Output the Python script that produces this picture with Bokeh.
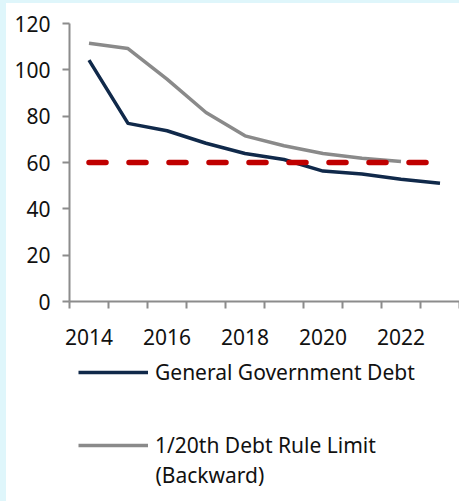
from bokeh.plotting import figure
from bokeh.models import Range1d, FixedTicker, Legend, LegendItem, LinearAxis, Label
from bokeh.layouts import column
from bokeh.embed import file_html
from bokeh.resources import INLINE

years = [2014, 2015, 2016, 2017, 2018, 2019, 2020, 2021, 2022, 2023]
debt = [104.2, 76.9, 73.7, 68.3, 63.9, 61.3, 56.3, 55.0, 52.8, 51.0]
rule_years = [2014, 2015, 2016, 2017, 2018, 2019, 2020, 2021, 2022]
rule_limit = [111.5, 109.2, 96.0, 81.6, 71.5, 67.2, 63.9, 61.8, 60.4]
threshold_years = [2014, 2023]
threshold = [60, 60]
x_label_years = [2014, 2016, 2018, 2020, 2022]
y_ticks = [0, 20, 40, 60, 80, 100, 120]
series_names = ["General Government Debt", "1/20th Debt Rule Limit", "(Backward)"]

FONT = "Noto Sans"
FS = "21px"
NAVY = "#10294a"
GREY = "#8a8a8a"
RED = "#c00000"

p = figure(width=453, height=354, output_backend="svg", toolbar_location=None,
           x_range=Range1d(years[0] - 0.5, years[-1] + 0.5), y_range=Range1d(0, 120),
           min_border_left=63, min_border_right=0, min_border_top=20, min_border_bottom=56)
p.outline_line_color = None
p.background_fill_color = "white"
p.border_fill_color = "white"
p.xgrid.visible = False
p.ygrid.visible = False
p.xaxis.visible = False
p.yaxis.visible = False

xax = LinearAxis(ticker=FixedTicker(ticks=x_label_years,
                                    minor_ticks=[y - 0.5 for y in years] + [years[-1] + 0.5]))
yax = LinearAxis(ticker=FixedTicker(ticks=y_ticks))
for ax in (xax, yax):
    ax.axis_line_color = "#8c8c8c"
    ax.axis_line_width = 2
    ax.major_label_text_font = FONT
    ax.major_label_text_font_size = FS
    ax.major_label_text_color = "#111111"
    ax.major_tick_line_color = "#8c8c8c"
    ax.major_tick_line_width = 2
    ax.minor_tick_line_color = "#8c8c8c"
    ax.minor_tick_line_width = 2
xax.major_tick_in = 0
xax.major_tick_out = 0
xax.minor_tick_in = 0
xax.minor_tick_out = 7
xax.major_label_standoff = 20
yax.major_tick_in = 0
yax.major_tick_out = 7
yax.minor_tick_line_color = None
yax.major_label_standoff = 12
p.add_layout(yax, "left")
p.add_layout(xax, "below")

p.line(years, debt, line_color=NAVY, line_width=3.5, line_join="round")
p.line(rule_years, rule_limit, line_color=GREY, line_width=3.5, line_join="round")
p.line(threshold_years, threshold, line_color=RED, line_width=5.5,
       line_dash="17 23", line_cap="round")

# legend panel (series re-drawn outside its visible range, only their legend keys show)
lg = figure(width=453, height=144, output_backend="svg", toolbar_location=None,
            x_range=Range1d(0, 1), y_range=Range1d(0, 1),
            min_border_left=0, min_border_right=0, min_border_top=0, min_border_bottom=0)
lg.axis.visible = False
lg.grid.visible = False
lg.outline_line_color = None
lg.background_fill_color = "white"
lg.border_fill_color = "white"
k1 = lg.line(years, debt, line_color=NAVY, line_width=3.5)
k2 = lg.line(rule_years, rule_limit, line_color=GREY, line_width=3.5)

legend = Legend(items=[LegendItem(label=series_names[0], renderers=[k1]),
                       LegendItem(label=series_names[1], renderers=[k2])],
                orientation="vertical", location=(9, 42))
legend.label_text_font = FONT
legend.label_text_font_size = FS
legend.label_text_color = "#111111"
legend.glyph_width = 70
legend.label_standoff = 7
legend.spacing = 45
legend.padding = 0
legend.margin = 0
legend.border_line_color = None
legend.background_fill_alpha = 0
lg.add_layout(legend, "center")

lg.add_layout(Label(x=86, y=27, x_units="screen", y_units="screen", text=series_names[2],
                    text_font=FONT, text_font_size=FS, text_color="#111111",
                    text_baseline="middle", text_align="left"))

layout = column(p, lg, spacing=0)
html = file_html(layout, INLINE)
i = html.rfind("<body>")
if i >= 0:
    html = (html[:i] + '<body style="margin:0;background:white;'
            'border-left:6px solid #dff6fb;border-top:3px solid #dff6fb;">' + html[i + 6:])
open("out.html", "w").write(html)
